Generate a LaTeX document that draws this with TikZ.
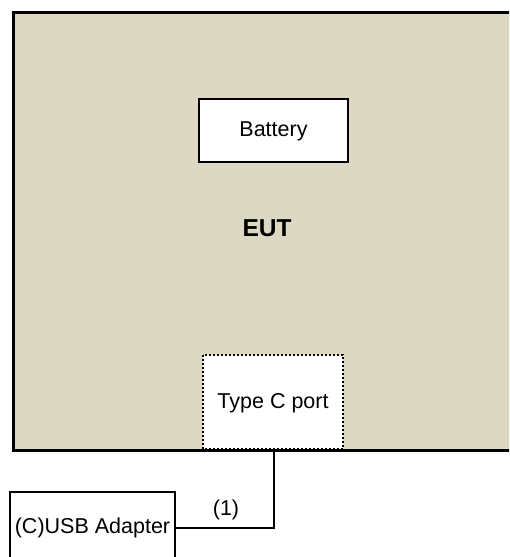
\documentclass[tikz,border=0pt]{standalone}
\usepackage{fontspec}
\setmainfont{Liberation Sans}
\definecolor{eutfill}{RGB}{221,216,195}
\begin{document}
\begin{tikzpicture}[x=1pt,y=-1pt,
  txt/.style={font=\fontsize{21.5}{25}\selectfont, inner sep=0pt},
  boxa/.style={draw=black, line width=2.6pt, fill=white},
  wire/.style={draw=black, line width=2.3pt}]
\clip (0,0) rectangle (509,557);
\fill[white] (0,0) rectangle (509,557);
% EUT
\draw[eutfill, fill=eutfill] (13,12) rectangle (515,450);
\draw[black, line width=3pt] (515,12) -- (13,12) -- (13,450) -- (515,450);
\node[txt, font=\fontsize{24.5}{28}\selectfont\bfseries] (eut) at (267,228) {EUT};
% Battery
\draw[boxa] (199,99) rectangle (348,162);
\node[txt] (bat) at (273.5,131) {Battery};
% Type C port
\draw[fill=white, draw=black, line width=2pt, dotted] (203,355) rectangle (343,449);
\coordinate (portS) at (274,450);
\node[txt] (port) at (273,403) {Type C port};
% Adapter
\draw[black, line width=2.3pt, fill=white] (10,492) rectangle (175,570);
\coordinate (adE) at (175,528);
\node[txt] (ad) at (92.5,528) {(C)USB Adapter};
% connector
\draw[wire] (adE) -- (274,528) -- (portS);
\node[txt] (lbl) at (226,510) {(1)};
\end{tikzpicture}
\end{document}
